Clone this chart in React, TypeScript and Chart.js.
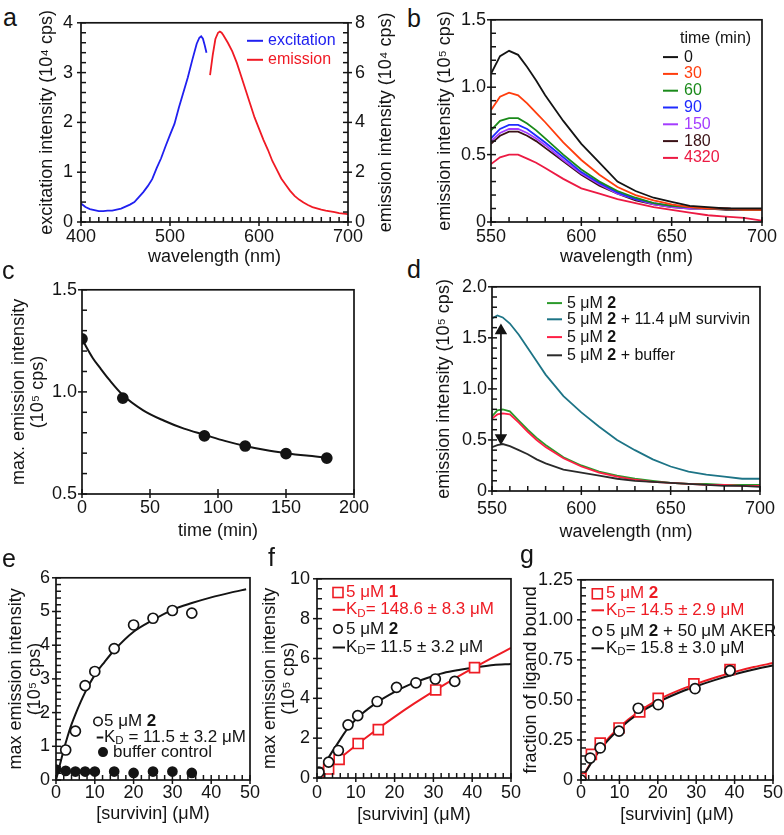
import React, { useEffect, useRef } from 'react';
import { Chart, registerables } from 'chart.js';
Chart.register(...registerables);

const FONT = '"Liberation Sans", Arial, Helvetica, sans-serif';
const INK = '#141414';
const RED = '#ee1c24';

// ---------------- panel a ----------------
const aExWl = [400, 405, 410, 415, 420, 425, 430, 435, 440, 445, 450, 455, 460, 465, 470, 475, 480, 485, 490, 495, 500, 505, 510, 515, 520, 525, 530, 533, 535, 537, 539, 541];
const aExInt = [0.37, 0.3, 0.26, 0.24, 0.22, 0.22, 0.23, 0.23, 0.25, 0.27, 0.31, 0.35, 0.4, 0.5, 0.6, 0.72, 0.86, 1.08, 1.28, 1.52, 1.75, 1.97, 2.3, 2.6, 2.9, 3.25, 3.58, 3.7, 3.73, 3.68, 3.55, 3.4];
const aEmWl = [545, 548, 551, 554, 556, 558, 560, 565, 570, 575, 580, 585, 590, 595, 600, 605, 610, 615, 620, 625, 630, 635, 640, 645, 650, 655, 660, 665, 670, 675, 680, 685, 690, 695, 700];
const aEmInt = [5.9, 6.7, 7.35, 7.6, 7.65, 7.6, 7.5, 7.2, 6.85, 6.4, 5.85, 5.3, 4.75, 4.2, 3.75, 3.3, 2.9, 2.45, 2.1, 1.75, 1.5, 1.25, 1.05, 0.9, 0.78, 0.68, 0.6, 0.55, 0.5, 0.46, 0.43, 0.4, 0.36, 0.34, 0.32];
const aXLabels = ['400', '500', '600', '700'];
const aYLabels = ['0', '1', '2', '3', '4'];
const aY2Labels = ['0', '2', '4', '6', '8'];
const aBlue = '#2020f0';
const aRed = '#f01a24';

// ---------------- panel b ----------------
const bWl = [550, 555, 560, 565, 570, 575, 580, 590, 600, 610, 620, 630, 640, 650, 660, 670, 680, 690, 700];
const bTimes = ['0', '30', '60', '90', '150', '180', '4320'];
const bT0 = [1.1, 1.23, 1.27, 1.24, 1.15, 1.05, 0.94, 0.75, 0.58, 0.44, 0.3, 0.23, 0.18, 0.15, 0.12, 0.11, 0.1, 0.1, 0.1];
const bT30 = [0.83, 0.93, 0.96, 0.94, 0.88, 0.81, 0.74, 0.59, 0.46, 0.35, 0.26, 0.2, 0.16, 0.13, 0.11, 0.1, 0.1, 0.09, 0.09];
const bT60 = [0.68, 0.75, 0.77, 0.77, 0.73, 0.68, 0.62, 0.5, 0.39, 0.3, 0.23, 0.18, 0.14, 0.12, 0.11, 0.1, 0.1, 0.09, 0.09];
const bT90 = [0.62, 0.69, 0.72, 0.72, 0.69, 0.64, 0.59, 0.48, 0.37, 0.29, 0.22, 0.17, 0.14, 0.12, 0.11, 0.1, 0.1, 0.09, 0.09];
const bT150 = [0.6, 0.66, 0.69, 0.69, 0.66, 0.62, 0.57, 0.46, 0.36, 0.28, 0.21, 0.17, 0.13, 0.11, 0.1, 0.1, 0.1, 0.09, 0.09];
const bT180 = [0.58, 0.64, 0.67, 0.67, 0.64, 0.6, 0.55, 0.45, 0.35, 0.27, 0.21, 0.16, 0.13, 0.11, 0.1, 0.1, 0.09, 0.09, 0.09];
const bT4320 = [0.43, 0.48, 0.5, 0.5, 0.47, 0.44, 0.4, 0.32, 0.25, 0.21, 0.17, 0.14, 0.11, 0.09, 0.07, 0.05, 0.04, 0.03, 0.01];
const bColors = ['#141414', '#ff3d0d', '#1a8a1a', '#1f2bff', '#a43cff', '#3a1116', '#ec1a43'];
const bXLabels = ['550', '600', '650', '700'];
const bYLabels = ['0', '0.5', '1.0', '1.5'];

// ---------------- panel c ----------------
const cTime = [0, 30, 90, 120, 150, 180];
const cMax = [1.26, 0.97, 0.785, 0.735, 0.698, 0.676];
const cFitT = [0, 4, 8, 13, 20, 30, 45, 60, 75, 90, 105, 120, 135, 150, 165, 180];
const cFitV = [1.26, 1.21, 1.165, 1.12, 1.06, 0.985, 0.91, 0.86, 0.82, 0.79, 0.76, 0.735, 0.715, 0.7, 0.688, 0.678];
const cXLabels = ['0', '50', '100', '150', '200'];
const cYLabels = ['0.5', '1.0', '1.5'];

// ---------------- panel d ----------------
const dWl = [550, 553, 556, 560, 565, 570, 575, 580, 590, 600, 610, 620, 630, 640, 650, 660, 670, 680, 690, 700];
const dFree1 = [0.73, 0.79, 0.8, 0.78, 0.69, 0.6, 0.52, 0.45, 0.33, 0.25, 0.19, 0.15, 0.12, 0.1, 0.08, 0.07, 0.07, 0.06, 0.06, 0.06];
const dSurvivin = [1.69, 1.72, 1.7, 1.64, 1.53, 1.4, 1.27, 1.14, 0.93, 0.77, 0.63, 0.5, 0.4, 0.31, 0.24, 0.19, 0.16, 0.14, 0.12, 0.12];
const dFree2 = [0.71, 0.75, 0.76, 0.75, 0.67, 0.58, 0.5, 0.43, 0.32, 0.24, 0.18, 0.14, 0.11, 0.09, 0.08, 0.07, 0.06, 0.06, 0.05, 0.05];
const dBuffer = [0.43, 0.45, 0.46, 0.44, 0.4, 0.36, 0.31, 0.27, 0.21, 0.18, 0.15, 0.12, 0.1, 0.09, 0.08, 0.07, 0.06, 0.05, 0.05, 0.04];
const dArrowX = [555, 555];
const dArrowY = [1.57, 0.52];
const dXLabels = ['550', '600', '650', '700'];
const dYLabels = ['0', '0.5', '1.0', '1.5', '2.0'];
const dGreen = '#2b9a2b';
const dTeal = '#1d7486';
const dRed = '#ff1f45';
const dBlack = '#2a2a2a';

// ---------------- panel e ----------------
const eConc = [2.5, 5, 7.5, 10, 15, 20, 25, 30, 35];
const eInt = [0.89, 1.45, 2.8, 3.22, 3.9, 4.6, 4.8, 5.03, 4.95];
const eBufConc = [0, 2.5, 5, 7.5, 10, 15, 20, 25, 30, 35];
const eBufInt = [0.31, 0.27, 0.25, 0.25, 0.25, 0.25, 0.21, 0.25, 0.25, 0.21];
const eFitX = [0, 1, 2, 3, 4, 5, 7.5, 10, 12.5, 15, 20, 25, 30, 35, 40, 45, 49];
const eFitY = [0, 0.45, 0.9, 1.3, 1.65, 1.95, 2.6, 3.12, 3.5, 3.85, 4.4, 4.75, 5.05, 5.25, 5.42, 5.56, 5.66];
const eXLabels = ['0', '10', '20', '30', '40', '50'];
const eYLabels = ['0', '1', '2', '3', '4', '5', '6'];

// ---------------- panel f ----------------
const fSqConc = [0.4, 3, 5.7, 10.6, 15.8, 30.6, 40.6];
const fSqInt = [0.05, 0.45, 0.93, 1.73, 2.43, 4.42, 5.54];
const fCircConc = [0.5, 3, 5.5, 8, 10.5, 15.5, 20.5, 25.5, 30.5, 35.5];
const fCircInt = [0.29, 0.8, 1.38, 2.67, 3.13, 3.84, 4.55, 4.78, 4.97, 4.85];
const fFit1X = [0, 5, 10, 15, 20, 25, 30, 35, 40, 45, 50];
const fFit1Y = [0, 0.84, 1.63, 2.37, 3.07, 3.73, 4.35, 4.94, 5.49, 6.02, 6.53];
const fFit2X = [0.8, 1.5, 2.6, 4, 5.2, 7.7, 11.2, 15.5, 19.8, 24, 28.4, 32.6, 36.9, 41.2, 45.5, 50];
const fFit2Y = [0.1, 0.45, 0.89, 1.35, 1.7, 2.43, 3.16, 3.8, 4.3, 4.7, 5.02, 5.27, 5.43, 5.56, 5.67, 5.72];
const fXLabels = ['0', '10', '20', '30', '40', '50'];
const fYLabels = ['0', '2', '4', '6', '8', '10'];

// ---------------- panel g ----------------
const gSqConc = [0, 2.7, 5, 9.9, 15.3, 20.1, 29.4, 38.8];
const gSqFrac = [0.01, 0.16, 0.23, 0.325, 0.425, 0.51, 0.6, 0.69];
const gCircConc = [0, 2.4, 5, 9.9, 14.9, 20.1, 29.7, 38.8];
const gCircFrac = [0, 0.137, 0.2, 0.305, 0.448, 0.47, 0.57, 0.683];
const gFitX = [0, 2.5, 5, 7.5, 10, 15, 20, 25, 30, 35, 40, 45, 50];
const gFitRed = [0, 0.105, 0.2, 0.27, 0.33, 0.425, 0.5, 0.555, 0.6, 0.64, 0.675, 0.705, 0.73];
const gFitBlack = [0, 0.1, 0.19, 0.26, 0.32, 0.415, 0.485, 0.54, 0.585, 0.625, 0.66, 0.69, 0.715];
const gXLabels = ['0', '10', '20', '30', '40', '50'];
const gYLabels = ['0', '0.25', '0.50', '0.75', '1.00', '1.25'];

// ---------------- helpers ----------------
const pts = (xs: number[], ys: number[]) => xs.map((x, i) => ({ x, y: ys[i] }));

const line = (xs: number[], ys: number[], color: string, extra: any = {}) => ({
  data: pts(xs, ys), borderColor: color, backgroundColor: color, borderWidth: 1.8,
  pointRadius: 0, fill: false, tension: 0, ...extra,
});
const fit = (xs: number[], ys: number[], color: string) =>
  line(xs, ys, color, { borderWidth: 2, cubicInterpolationMode: 'monotone' });
const marks = (xs: number[], ys: number[], style: string, color: string, r: number, fillColor: string) => ({
  data: pts(xs, ys), showLine: false, pointStyle: style, pointRadius: r,
  pointBorderColor: color, pointBackgroundColor: fillColor, pointBorderWidth: 1.7,
  borderColor: color, backgroundColor: fillColor,
});

const tickFont = { family: FONT, size: 18 };

function xScale(min: number, max: number, step: number, labels: string[], title: string, h: number, pad: number) {
  return {
    type: 'linear', position: 'bottom', min, max,
    afterFit: (s: any) => { s.height = h; },
    grid: { display: false, drawTicks: false }, border: { display: false },
    ticks: { stepSize: step, autoSkip: false, maxRotation: 0, padding: pad, color: INK, font: tickFont,
      callback: (_v: any, i: number) => labels[i] },
    title: { display: true, text: title, color: INK, font: { family: FONT, size: 18 }, padding: 0 },
  };
}
function yScale(pos: string, min: number, max: number, step: number, labels: string[], title: any, w: number, pad: number, lh = 1.2) {
  return {
    type: 'linear', position: pos, min, max,
    afterFit: (s: any) => { s.width = w; },
    grid: { display: false, drawTicks: false }, border: { display: false },
    ticks: { stepSize: step, autoSkip: false, padding: pad, color: INK, font: tickFont,
      callback: (_v: any, i: number) => labels[i] },
    title: { display: !!title, text: title || '', color: INK, font: { family: FONT, size: 18, lineHeight: lh }, padding: 0 },
  };
}

type Part = { t: string; b?: boolean; sub?: boolean };
type Row = { y: number; mk?: string; mx?: number; mx2?: number; color?: string; tx: number; tc: string; parts: Part[] };
type Spec = { minor: Record<string, number>; rows?: Row[]; size?: number; rightTitle?: { text: string; dx: number } };

function drawParts(ctx: CanvasRenderingContext2D, x: number, y: number, parts: Part[], size: number, color: string) {
  ctx.fillStyle = color;
  ctx.textAlign = 'left';
  ctx.textBaseline = 'middle';
  for (const p of parts) {
    const s = p.sub ? size * 0.68 : size;
    ctx.font = `${p.b ? 'bold ' : ''}${s}px ${FONT}`;
    ctx.fillText(p.t, x, p.sub ? y + size * 0.22 : y);
    x += ctx.measureText(p.t).width;
  }
}

function decor(spec: Spec) {
  return {
    id: 'decor',
    afterDraw(chart: any) {
      const ctx: CanvasRenderingContext2D = chart.ctx;
      const a = chart.chartArea;
      ctx.save();
      ctx.strokeStyle = INK;
      ctx.lineWidth = 1.7;
      ctx.strokeRect(a.left, a.top, a.right - a.left, a.bottom - a.top);
      ctx.lineWidth = 1.5;
      for (const id of Object.keys(spec.minor)) {
        const s = chart.scales[id];
        const step = spec.minor[id];
        const n = Math.round((s.max - s.min) / step);
        const majors = s.ticks.map((t: any) => t.value);
        for (let i = 0; i <= n; i++) {
          const v = s.min + i * step;
          const major = majors.some((m: number) => Math.abs(m - v) < step * 1e-3);
          const p = s.getPixelForValue(v);
          const inL = 5;
          const outL = major ? 4 : 0;
          ctx.beginPath();
          if (s.isHorizontal()) { ctx.moveTo(p, a.bottom + outL); ctx.lineTo(p, a.bottom - inL); }
          else if (s.position === 'left') { ctx.moveTo(a.left - outL, p); ctx.lineTo(a.left + inL, p); }
          else { ctx.moveTo(a.right + outL, p); ctx.lineTo(a.right - inL, p); }
          ctx.stroke();
        }
      }
      const size = spec.size || 16;
      for (const r of spec.rows || []) {
        const y = a.top + r.y;
        if (r.mk === 'line') {
          ctx.strokeStyle = r.color!;
          ctx.lineWidth = 2;
          ctx.beginPath();
          ctx.moveTo(a.left + r.mx!, y);
          ctx.lineTo(a.left + r.mx2!, y);
          ctx.stroke();
        } else if (r.mk === 'circle' || r.mk === 'dot') {
          ctx.beginPath();
          ctx.arc(a.left + r.mx!, y, 4.2, 0, Math.PI * 2);
          ctx.fillStyle = r.mk === 'dot' ? r.color! : '#fff';
          ctx.fill();
          ctx.strokeStyle = r.color!;
          ctx.lineWidth = 1.6;
          ctx.stroke();
        } else if (r.mk === 'square') {
          ctx.fillStyle = '#fff';
          ctx.fillRect(a.left + r.mx! - 5, y - 5, 10, 10);
          ctx.strokeStyle = r.color!;
          ctx.lineWidth = 1.6;
          ctx.strokeRect(a.left + r.mx! - 5, y - 5, 10, 10);
        }
        drawParts(ctx, a.left + r.tx, y, r.parts, size, r.tc);
      }
      if (spec.rightTitle) {
        ctx.translate(a.right + spec.rightTitle.dx, (a.top + a.bottom) / 2);
        ctx.rotate(-Math.PI / 2);
        ctx.fillStyle = INK;
        ctx.textAlign = 'center';
        ctx.textBaseline = 'middle';
        ctx.font = `18px ${FONT}`;
        ctx.fillText(spec.rightTitle.text, 0, 0);
      }
      ctx.restore();
    },
  };
}

function config(datasets: any[], scales: any, padRight: number, spec: Spec) {
  return {
    type: 'line',
    data: { datasets },
    options: {
      responsive: false, animation: false, events: [],
      layout: { padding: { top: 12, right: padRight, left: 0, bottom: 0 } },
      plugins: { legend: { display: false }, tooltip: { enabled: false } },
      scales,
    },
    plugins: [decor(spec)],
  };
}

// ---------------- panel configs ----------------
const makeA = () => config(
  [
    line(aExWl, aExInt, aBlue, { yAxisID: 'y' }),
    line(aEmWl, aEmInt, aRed, { yAxisID: 'y2' }),
  ],
  {
    x: xScale(400, 700, 100, aXLabels, 'wavelength (nm)', 46, 4),
    y: yScale('left', 0, 4, 1, aYLabels, 'excitation intensity (10⁴ cps)', 45, 8),
    y2: yScale('right', 0, 8, 2, aY2Labels, null, 52, 7),
  },
  0,
  {
    minor: { x: 10, y: 0.2, y2: 0.4 },
    size: 16,
    rightTitle: { text: 'emission intensity (10⁴ cps)', dx: 38 },
    rows: [
      { y: 18, mk: 'line', mx: 166, mx2: 182, color: aBlue, tx: 187, tc: aBlue, parts: [{ t: 'excitation' }] },
      { y: 37, mk: 'line', mx: 166, mx2: 182, color: aRed, tx: 187, tc: aRed, parts: [{ t: 'emission' }] },
    ],
  },
);

const bSeries = [bT0, bT30, bT60, bT90, bT150, bT180, bT4320];
const makeB = () => config(
  bSeries.map((s, i) => line(bWl, s, bColors[i])),
  {
    x: xScale(550, 700, 50, bXLabels, 'wavelength (nm)', 46, 4),
    y: yScale('left', 0, 1.5, 0.5, bYLabels, 'emission intensity (10⁵ cps)', 57, 5),
  },
  20,
  {
    minor: { x: 10, y: 0.1 },
    size: 16,
    rows: [
      { y: 19, tx: 189, tc: INK, parts: [{ t: 'time (min)' }] },
      ...bTimes.map((t, i) => ({
        y: 37.3 + i * 16.8, mk: 'line', mx: 172, mx2: 187, color: bColors[i], tx: 193, tc: bColors[i], parts: [{ t }],
      })),
    ],
  },
);

const makeC = () => config(
  [
    marks(cTime, cMax, 'circle', INK, 5, INK),
    fit(cFitT, cFitV, INK),
  ],
  {
    x: xScale(0, 200, 50, cXLabels, 'time (min)', 48, 3),
    y: yScale('left', 0.5, 1.5, 0.5, cYLabels, ['max. emission intensity', '(10⁵ cps)'], 72, 5, 1.05),
  },
  20,
  { minor: { x: 50, y: 0.1 } },
);

const makeD = () => config(
  [
    { ...line(dArrowX, dArrowY, INK), pointRadius: 5.5, pointStyle: 'triangle', pointRotation: [0, 180], pointBackgroundColor: INK, pointBorderColor: INK, borderWidth: 1.7 },
    line(dWl, dBuffer, dBlack),
    line(dWl, dFree2, dRed),
    line(dWl, dFree1, dGreen),
    line(dWl, dSurvivin, dTeal),
  ],
  {
    x: xScale(550, 700, 50, dXLabels, 'wavelength (nm)', 52, 7),
    y: yScale('left', 0, 2, 0.5, dYLabels, 'emission intensity (10⁵ cps)', 59, 5),
  },
  18,
  {
    minor: { x: 10, y: 0.1 },
    size: 16,
    rows: [
      { y: 16.3, mk: 'line', mx: 55, mx2: 70, color: dGreen, tx: 75, tc: INK, parts: [{ t: '5 μM ' }, { t: '2', b: true }] },
      { y: 32.5, mk: 'line', mx: 55, mx2: 70, color: dTeal, tx: 75, tc: INK, parts: [{ t: '5 μM ' }, { t: '2', b: true }, { t: ' + 11.4 μM survivin' }] },
      { y: 50.3, mk: 'line', mx: 55, mx2: 70, color: dRed, tx: 75, tc: INK, parts: [{ t: '5 μM ' }, { t: '2', b: true }] },
      { y: 68.5, mk: 'line', mx: 55, mx2: 70, color: dBlack, tx: 75, tc: INK, parts: [{ t: '5 μM ' }, { t: '2', b: true }, { t: ' + buffer' }] },
    ],
  },
);

const makeE = () => config(
  [
    marks(eConc, eInt, 'circle', INK, 5, '#fff'),
    marks(eBufConc, eBufInt, 'circle', INK, 4.5, INK),
    fit(eFitX, eFitY, INK),
  ],
  {
    x: xScale(0, 50, 10, eXLabels, '[survivin] (μM)', 45, 2),
    y: yScale('left', 0, 6, 1, eYLabels, ['max emission intensity', '(10⁵ cps)'], 49, 6, 1.05),
  },
  14,
  {
    minor: { x: 2, y: 0.2 },
    size: 17,
    rows: [
      { y: 143.7, mk: 'circle', mx: 42, color: INK, tx: 48, tc: INK, parts: [{ t: '5 μM ' }, { t: '2', b: true }] },
      { y: 159.7, mk: 'line', mx: 40.7, mx2: 47.3, color: INK, tx: 48, tc: INK, parts: [{ t: 'K' }, { t: 'D', sub: true }, { t: ' = 11.5 ± 3.2 μM' }] },
      { y: 174.3, mk: 'dot', mx: 47, color: INK, tx: 57, tc: INK, parts: [{ t: 'buffer control' }] },
    ],
  },
);

const makeF = () => config(
  [
    marks(fCircConc, fCircInt, 'circle', INK, 5, '#fff'),
    marks(fSqConc, fSqInt, 'rect', RED, 7, '#fff'),
    fit(fFit2X, fFit2Y, INK),
    fit(fFit1X, fFit1Y, RED),
  ],
  {
    x: xScale(0, 50, 10, fXLabels, '[survivin] (μM)', 48, 4),
    y: yScale('left', 0, 10, 2, fYLabels, ['max emission intensity', '(10⁵ cps)'], 56, 7, 1.05),
  },
  14,
  {
    minor: { x: 2, y: 0.5 },
    size: 17,
    rows: [
      { y: 13.7, mk: 'square', mx: 21, color: RED, tx: 29, tc: RED, parts: [{ t: '5 μM ' }, { t: '1', b: true }] },
      { y: 31, mk: 'line', mx: 15.7, mx2: 28, color: RED, tx: 29, tc: RED, parts: [{ t: 'K' }, { t: 'D', sub: true }, { t: '= 148.6 ± 8.3 μM' }] },
      { y: 50.3, mk: 'circle', mx: 21, color: INK, tx: 29, tc: INK, parts: [{ t: '5 μM ' }, { t: '2', b: true }] },
      { y: 68.7, mk: 'line', mx: 15.7, mx2: 28, color: INK, tx: 29, tc: INK, parts: [{ t: 'K' }, { t: 'D', sub: true }, { t: '= 11.5 ± 3.2 μM' }] },
    ],
  },
);

const makeG = () => config(
  [
    marks(gCircConc, gCircFrac, 'circle', INK, 5, '#fff'),
    marks(gSqConc, gSqFrac, 'rect', RED, 7, '#fff'),
    fit(gFitX, gFitBlack, INK),
    fit(gFitX, gFitRed, RED),
  ],
  {
    x: xScale(0, 50, 10, gXLabels, '[survivin] (μM)', 46, 2),
    y: yScale('left', 0, 1.25, 0.25, gYLabels, 'fraction of ligand bound', 61, 8),
  },
  11,
  {
    minor: { x: 2, y: 0.05 },
    size: 17,
    rows: [
      { y: 14, mk: 'square', mx: 16.3, color: RED, tx: 25, tc: RED, parts: [{ t: '5 μM ' }, { t: '2', b: true }] },
      { y: 30.5, mk: 'line', mx: 10.5, mx2: 23, color: RED, tx: 25, tc: RED, parts: [{ t: 'K' }, { t: 'D', sub: true }, { t: '= 14.5 ± 2.9 μM' }] },
      { y: 51.5, mk: 'circle', mx: 16.3, color: INK, tx: 25, tc: INK, parts: [{ t: '5 μM ' }, { t: '2', b: true }, { t: ' + 50 μM AKER' }] },
      { y: 68.5, mk: 'line', mx: 10.5, mx2: 23, color: INK, tx: 25, tc: INK, parts: [{ t: 'K' }, { t: 'D', sub: true }, { t: '= 15.8 ± 3.0 μM' }] },
    ],
  },
);

const panels = [
  { key: 'a', left: 36, top: 4, w: 364, h: 264, make: makeA },
  { key: 'b', left: 434, top: 4, w: 348, h: 264, make: makeB },
  { key: 'c', left: 10, top: 274, w: 364, h: 268, make: makeC },
  { key: 'd', left: 433, top: 271, w: 349, h: 272, make: makeD },
  { key: 'e', left: 7, top: 561, w: 257, h: 264, make: makeE },
  { key: 'f', left: 261, top: 561, w: 264, h: 265, make: makeF },
  { key: 'g', left: 520, top: 561, w: 265, h: 265, make: makeG },
];

const letters = [
  { t: 'a', left: 3, top: 5 },
  { t: 'b', left: 407, top: 6 },
  { t: 'c', left: 2, top: 258 },
  { t: 'd', left: 407, top: 257 },
  { t: 'e', left: 2, top: 546 },
  { t: 'f', left: 268, top: 545 },
  { t: 'g', left: 520, top: 542 },
];

function Panel({ p }: { p: any }) {
  const ref = useRef<HTMLCanvasElement>(null);
  useEffect(() => {
    const chart = new Chart(ref.current as HTMLCanvasElement, p.make() as any);
    return () => chart.destroy();
  }, []);
  return (
    <canvas
      ref={ref}
      width={p.w}
      height={p.h}
      style={{ position: 'absolute', left: p.left, top: p.top, width: p.w, height: p.h }}
    />
  );
}

export default function App() {
  return (
    <div style={{ position: 'absolute', left: 0, top: 0, width: 784, height: 835, background: '#fff', overflow: 'hidden', fontFamily: FONT }}>
      {panels.map((p) => <Panel key={p.key} p={p} />)}
      {letters.map((l) => (
        <div key={l.t} style={{ position: 'absolute', left: l.left, top: l.top, fontSize: 25, lineHeight: '25px', color: INK, fontFamily: FONT }}>
          {l.t}
        </div>
      ))}
    </div>
  );
}
